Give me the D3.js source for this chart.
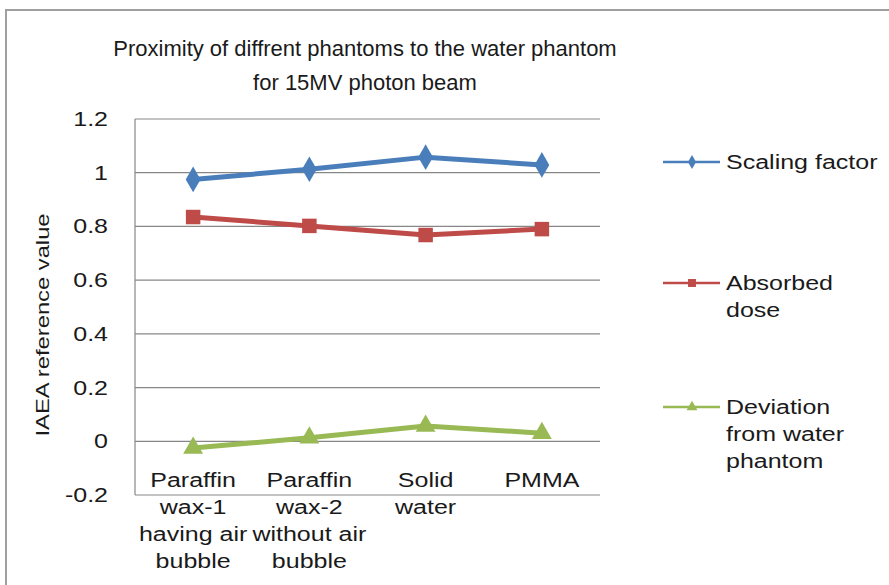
<!DOCTYPE html>
<html>
<head>
<meta charset="utf-8">
<title>Proximity of diffrent phantoms</title>
<script src="https://d3js.org/d3.v7.min.js"></script>
<style>
  body { margin: 0; background: #fff; }
  svg text { font-family: "Liberation Sans", Arial, sans-serif; fill: #1a1a1a; }
</style>
</head>
<body>
<svg id="chart" width="889" height="585"></svg>
<script>
// data
var categories = [
  ["Paraffin", "wax-1", "having air", "bubble"],
  ["Paraffin", "wax-2", "without air", "bubble"],
  ["Solid", "water"],
  ["PMMA"]
];
var scalingFactor = [0.975, 1.013, 1.058, 1.029];
var absorbedDose = [0.835, 0.802, 0.768, 0.790];
var deviation = [-0.025, 0.013, 0.057, 0.030];
var yTicks = [-0.2, 0, 0.2, 0.4, 0.6, 0.8, 1, 1.2];
var seriesNames = [["Scaling factor"], ["Absorbed", "dose"], ["Deviation", "from water", "phantom"]];

var series = [
  { name: seriesNames[0], values: scalingFactor, color: "#4a7ebb", symbol: d3.symbolDiamond, size: 190, legendY: 162 },
  { name: seriesNames[1], values: absorbedDose, color: "#be4b48", symbol: d3.symbolSquare, size: 210, legendY: 283 },
  { name: seriesNames[2], values: deviation, color: "#98b954", symbol: d3.symbolTriangle, size: 170, legendY: 407 }
];

var svg = d3.select("#chart");

// excel text looks wider than liberation at the same height
var WIDE = 1.25;
function widen(sel) {
  sel.each(function() {
    var len = this.getComputedTextLength();
    d3.select(this).attr("textLength", len * WIDE).attr("lengthAdjust", "spacingAndGlyphs");
  });
}

// outer chart border
svg.append("rect")
  .attr("x", 6).attr("y", 10)
  .attr("width", 900).attr("height", 600)
  .attr("fill", "#fff")
  .attr("stroke", "#a0a0a0").attr("stroke-width", 2);

var pLeft = 135, pRight = 600, pTop = 119, pBottom = 495;

var x = d3.scaleBand()
  .domain(d3.range(categories.length))
  .range([pLeft, pRight]);

var y = d3.scaleLinear()
  .domain([-0.2, 1.2])
  .range([pBottom, pTop]);

// gridlines
svg.append("g")
  .selectAll("line")
  .data(yTicks)
  .join("line")
  .attr("x1", pLeft).attr("x2", pRight)
  .attr("y1", function(d) { return y(d); })
  .attr("y2", function(d) { return y(d); })
  .attr("stroke", "#878787").attr("stroke-width", 1.2);

// y axis line
svg.append("line")
  .attr("x1", pLeft).attr("x2", pLeft)
  .attr("y1", pTop).attr("y2", pBottom)
  .attr("stroke", "#878787").attr("stroke-width", 1.2);

// y tick labels (plain hyphen like excel)
svg.append("g")
  .selectAll("text")
  .data(yTicks)
  .join("text")
  .attr("x", 108)
  .attr("y", function(d) { return y(d) + 7; })
  .attr("text-anchor", "end")
  .attr("font-size", 20)
  .text(function(d) { return String(d); })
  .call(widen);

// category labels, one text per line
categories.forEach(function(lines, i) {
  svg.append("g")
    .selectAll("text")
    .data(lines)
    .join("text")
    .attr("x", x(i) + x.bandwidth() / 2)
    .attr("y", function(d, j) { return 487 + j * 27; })
    .attr("text-anchor", "middle")
    .attr("font-size", 20)
    .text(function(d) { return d; })
    .call(widen);
});

// y axis title
svg.append("text")
  .attr("transform", "translate(49,325) rotate(-90)")
  .attr("text-anchor", "middle")
  .attr("font-size", 19)
  .text("IAEA reference value")
  .call(widen);

// title
svg.append("text")
  .attr("x", 365).attr("y", 56)
  .attr("text-anchor", "middle")
  .attr("font-size", 22)
  .text("Proximity of diffrent phantoms to the water phantom");
svg.append("text")
  .attr("x", 365).attr("y", 90)
  .attr("text-anchor", "middle")
  .attr("font-size", 22)
  .text("for 15MV photon beam");

var line = d3.line()
  .x(function(d, i) { return x(i) + x.bandwidth() / 2; })
  .y(function(d) { return y(d); });

series.forEach(function(s) {
  svg.append("path")
    .datum(s.values)
    .attr("d", line)
    .attr("fill", "none")
    .attr("stroke", s.color)
    .attr("stroke-width", 5)
    .attr("stroke-linejoin", "round");

  svg.append("g")
    .selectAll("path")
    .data(s.values)
    .join("path")
    .attr("d", d3.symbol().type(s.symbol).size(s.size))
    .attr("transform", function(d, i) {
      return "translate(" + (x(i) + x.bandwidth() / 2) + "," + y(d) + ")";
    })
    .attr("fill", s.color);

  // legend
  var lg = svg.append("g");
  lg.append("line")
    .attr("x1", 663).attr("x2", 720)
    .attr("y1", s.legendY).attr("y2", s.legendY)
    .attr("stroke", s.color).attr("stroke-width", 2.5);
  lg.append("path")
    .attr("d", d3.symbol().type(s.symbol).size(s.size * 0.3))
    .attr("transform", "translate(692," + s.legendY + ")")
    .attr("fill", s.color);
  lg.selectAll("text")
    .data(s.name)
    .join("text")
    .attr("x", 726)
    .attr("y", function(d, j) { return s.legendY + 7 + j * 27; })
    .attr("font-size", 20)
    .text(function(d) { return d; })
    .call(widen);
});
</script>
</body>
</html>
